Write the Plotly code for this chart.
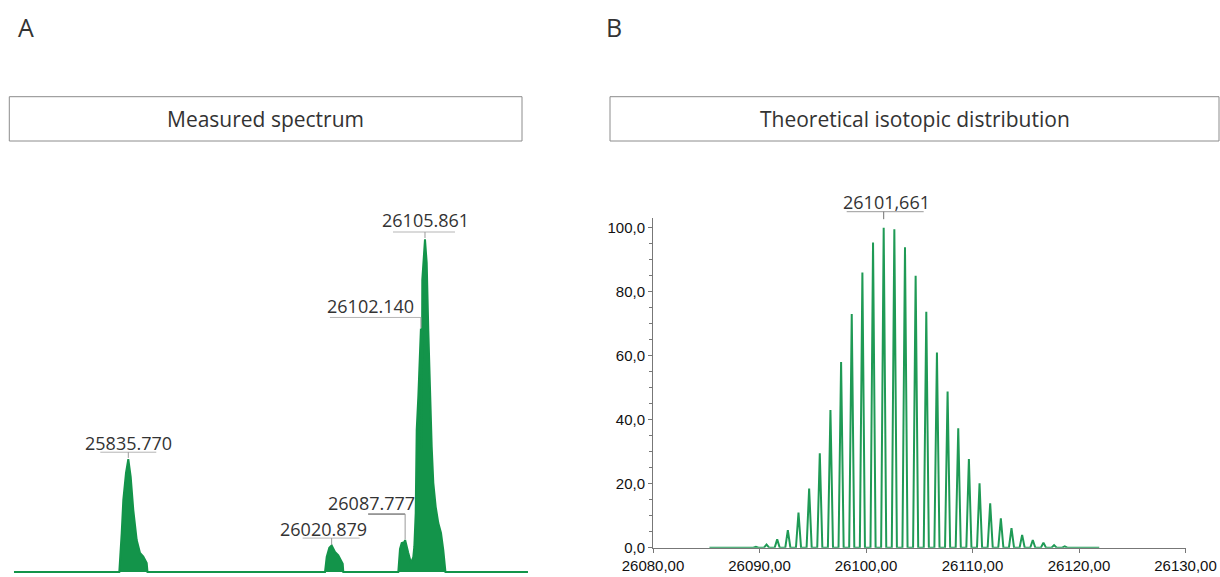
import plotly.graph_objects as go

W, H = 1220, 577

# ---------------- data ----------------
# Panel A: measured spectrum (envelope), relative intensity %
A_MZ = [25731.7, 25827.58, 25829.76, 25831.22, 25833.68, 25835.77, 25837.95, 25840.32, 25843.42,
        25846.42, 25849.42, 25852.52, 25853.25,
        26014.83, 26016.38, 26018.75, 26020.88, 26023.94, 26026.94, 26029.13, 26030.95, 26031.49,
        26081.56, 26083.11, 26084.65, 26087.02, 26087.78, 26090.66, 26093.12, 26095.21, 26096.13,
        26097.40, 26098.31, 26099.77, 26102.14, 26102.87, 26103.40, 26105.86, 26107.41, 26108.87,
        26110.41, 26111.96, 26113.42, 26115.60, 26117.97, 26120.43, 26122.52, 26124.07, 26124.50,
        26199.6]
A_INT = [0, 0, 11.7, 21.6, 29.8, 33.9, 28.6, 18.6, 9.6, 5.7, 4.6, 2.7, 0,
         0, 4.5, 7.3, 8.0, 6.0, 5.0, 3.5, 2.5, 0,
         0, 6.9, 8.7, 9.0, 9.6, 5.7, 2.7, 4.5, 7.6, 17.7, 42.7, 52.6, 73.2, 36.7, 87.8, 100,
         92.9, 72.7, 52.7, 37.7, 26.8, 19.6, 14.7, 11.7, 6.6, 0.6, 0, 0]

A_LABEL_MZ = [25835.770, 26020.879, 26087.777, 26102.140, 26105.861]
A_LABEL_INT = [33.9, 8.0, 9.6, 73.2, 100.0]

# Panel B: theoretical isotopic distribution
B_CENTERS = [26087.661, 26088.661, 26089.661, 26090.661, 26091.661, 26092.661, 26093.661,
             26094.661, 26095.661, 26096.661, 26097.661, 26098.661, 26099.661, 26100.661,
             26101.661, 26102.661, 26103.661, 26104.661, 26105.661, 26106.661, 26107.661,
             26108.661, 26109.661, 26110.661, 26111.661, 26112.661, 26113.661, 26114.661,
             26115.661, 26116.661, 26117.661, 26118.661, 26119.661, 26120.661, 26121.661]
B_HEIGHTS = [0.05, 0.1, 0.3, 1.0, 2.6, 5.5, 11.0, 18.5, 29.5, 43.0, 58.0, 73.0, 86.0, 95.4,
             100.0, 99.5, 93.9, 85.0, 73.7, 61.0, 48.8, 37.3, 27.7, 20.1, 13.9, 9.2, 6.1, 4.0,
             2.4, 1.6, 0.8, 0.4, 0.2, 0.1, 0.05]
B_BASE_START, B_BASE_END = 26085.3, 26121.9
B_LABEL_MZ = 26101.661
B_LABEL_INT = 100.0
B_X_TICKS = [26080, 26090, 26100, 26110, 26120, 26130]
B_Y_TICKS = [0, 20, 40, 60, 80, 100]

PANEL_LETTERS = ["A", "B"]
PANEL_TITLES = ["Measured spectrum", "Theoretical isotopic distribution"]

# ---------------- styles / layout geometry ----------------
GREEN_A = "#13944a"
GREEN_B = "#1f9a55"
TXT = "#333333"
ANN_FONT = dict(family="Open Sans", size=18, color=TXT)
TICK_FONT = dict(family="Liberation Sans", size=15, color="#111111")
AXIS_COL = "#777777"

# panel A pixel mapping
A_REF_MZ, A_REF_PX, A_PX_PER_DA = 25835.77, 128.3, 1.0985
A_BASE_PX, A_PX_PER_UNIT = 572.0, 3.327
a_xrange = [A_REF_MZ - A_REF_PX / A_PX_PER_DA, A_REF_MZ + (610 - A_REF_PX) / A_PX_PER_DA]
a_yrange = [-(H - A_BASE_PX) / A_PX_PER_UNIT, (A_BASE_PX - 200) / A_PX_PER_UNIT]
a_ydom = [0, 1 - 200 / H]

# panel B pixel geometry
B_X0_PX, B_X1_PX = 653.0, 1185.5
B_Y0_PX, B_YTOP_PX, B_PX_PER_UNIT = 547.7, 218.0, 3.2
b_ydom = [1 - B_Y0_PX / H, 1 - B_YTOP_PX / H]
b_yrange = [0, (B_Y0_PX - B_YTOP_PX) / B_PX_PER_UNIT]

HALF_W = 0.24  # peak half width (Da) for the profile drawing

fig = go.Figure()

# Panel A spectrum
fig.add_trace(go.Scatter(x=A_MZ, y=A_INT, mode="lines", fill="tozeroy",
                         line=dict(color=GREEN_A, width=2), fillcolor=GREEN_A,
                         xaxis="x", yaxis="y", hoverinfo="skip", showlegend=False))

# Panel B profile
bx, by = [B_BASE_START], [0]
for c, h in zip(B_CENTERS, B_HEIGHTS):
    bx += [c - HALF_W, c, c + HALF_W]
    by += [0, h, 0]
bx.append(B_BASE_END)
by.append(0)
fig.add_trace(go.Scatter(x=bx, y=by, mode="lines", line=dict(color=GREEN_B, width=2),
                         xaxis="x2", yaxis="y2", hoverinfo="skip", showlegend=False))

annotations = []
shapes = []

# Panel A labels: (text dx, text dy, underline x0, x1, y, tick top, tick bottom, underline colour)
A_LABEL_STYLE = [
    (0, 16, -28, 28, 7, 7, 1.3, "#b5b5b5"),
    (-8, 16.5, -29, 28, 7.3, 7.3, 0.5, "#b5b5b5"),
    (-34, 37, -37, 0, 26, 26, 0.7, "#404040"),
    (-50, 22, -91, 0, 11, 11, 0.5, "#b5b5b5"),
    (1, 19, -32, 30, 7.3, 7.3, 1.3, "#b5b5b5"),
]
for mz, it, st in zip(A_LABEL_MZ, A_LABEL_INT, A_LABEL_STYLE):
    dx, dy, u0, u1, uy, t0, t1, ucol = st
    annotations.append(dict(x=mz, y=it, xref="x", yref="y", text=f"{mz:.3f}", showarrow=False,
                            xanchor="center", yanchor="middle", xshift=dx, yshift=dy, font=ANN_FONT))
    shapes.append(dict(type="line", xref="x", yref="y", xsizemode="pixel", ysizemode="pixel",
                       xanchor=mz, yanchor=it, x0=u0, x1=u1, y0=uy, y1=uy,
                       line=dict(color=ucol, width=1)))
    shapes.append(dict(type="line", xref="x", yref="y", xsizemode="pixel", ysizemode="pixel",
                       xanchor=mz, yanchor=it, x0=0, x1=0, y0=t0, y1=t1,
                       line=dict(color="#9a9a9a", width=1)))

# Panel B label
b_label_paper_y = b_ydom[0] + (B_LABEL_INT - b_yrange[0]) / (b_yrange[1] - b_yrange[0]) * (b_ydom[1] - b_ydom[0])
annotations.append(dict(x=B_LABEL_MZ, y=b_label_paper_y, xref="x2", yref="paper",
                        text=f"{B_LABEL_MZ:.3f}".replace(".", ","), showarrow=False,
                        xanchor="center", yanchor="middle", xshift=3, yshift=26, font=ANN_FONT))
shapes.append(dict(type="line", xref="x2", yref="paper", xsizemode="pixel", ysizemode="pixel",
                   xanchor=B_LABEL_MZ, yanchor=b_label_paper_y, x0=-37, x1=40, y0=16, y1=16,
                   line=dict(color="#9a9a9a", width=1)))
shapes.append(dict(type="line", xref="x2", yref="paper", xsizemode="pixel", ysizemode="pixel",
                   xanchor=B_LABEL_MZ, yanchor=b_label_paper_y, x0=0, x1=0, y0=16, y1=8.5,
                   line=dict(color="#707070", width=1)))

# Panel letters and title boxes
BOXES = [(9.3, 522.0), (610.0, 1219.0)]
LETTER_X = [26.0, 613.5]
for letter, title, (bx0, bx1), lx in zip(PANEL_LETTERS, PANEL_TITLES, BOXES, LETTER_X):
    annotations.append(dict(x=lx / W, y=1 - 27 / H, xref="paper", yref="paper", text=letter,
                            showarrow=False, xanchor="center", yanchor="middle",
                            font=dict(family="Open Sans", size=25, color=TXT)))
    shapes.append(dict(type="rect", xref="paper", yref="paper", x0=bx0 / W, x1=bx1 / W,
                       y0=1 - 141 / H, y1=1 - 96.7 / H, line=dict(color="#8c8c8c", width=1),
                       fillcolor="white", layer="below"))
    annotations.append(dict(x=(bx0 + bx1) / 2 / W, y=1 - 119 / H, xref="paper", yref="paper",
                            text=title, showarrow=False, xanchor="center", yanchor="middle",
                            font=dict(family="Open Sans", size=21, color=TXT)))

fig.update_layout(
    template="none",
    width=W, height=H, margin=dict(l=0, r=0, t=0, b=0, pad=0, autoexpand=False),
    paper_bgcolor="white", plot_bgcolor="white",
    separators=",.",
    showlegend=False,
    xaxis=dict(domain=[0, 0.5], range=a_xrange, visible=False, fixedrange=True, automargin=False),
    yaxis=dict(domain=a_ydom, range=a_yrange, visible=False, fixedrange=True, automargin=False),
    xaxis2=dict(domain=[B_X0_PX / W, B_X1_PX / W], range=[26080, 26130], anchor="y2",
                tickvals=B_X_TICKS, tickformat=".2f", showline=True, linecolor=AXIS_COL,
                linewidth=1, ticks="outside", ticklen=4, tickcolor=AXIS_COL, automargin=False,
                tickfont=TICK_FONT, showgrid=False, zeroline=False),
    yaxis2=dict(domain=b_ydom, range=b_yrange, anchor="x2", automargin=False,
                tickvals=B_Y_TICKS, tickformat=".1f", showline=True, linecolor=AXIS_COL,
                linewidth=1, ticks="outside", ticklen=4, tickcolor=AXIS_COL,
                tickfont=TICK_FONT, showgrid=False, zeroline=False,
                minor=dict(dtick=5, ticks="outside", ticklen=3, tickcolor=AXIS_COL)),
    annotations=annotations,
    shapes=shapes,
)

fig.write_html("out.html", config={"displayModeBar": False},
               post_script="document.body.style.margin='0px';"
                           "document.documentElement.style.overflow='hidden';")
